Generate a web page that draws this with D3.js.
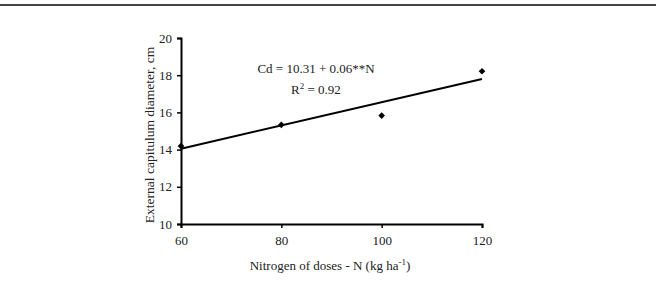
<!DOCTYPE html>
<html>
<head>
<meta charset="utf-8">
<script src="https://cdn.jsdelivr.net/npm/d3@7"></script>
<style>
  html, body { margin: 0; padding: 0; background: #fff; }
  svg { display: block; }
  text { font-family: "Liberation Serif", "Times New Roman", serif; fill: #222; }
</style>
</head>
<body>
<div id="chart"></div>
<script>
const doses = [60, 80, 100, 120];
const diameters = [14.19, 15.33, 15.83, 18.21];
const trendDoses = [60, 120];
const trendValues = [14.05, 17.8];
const xTicks = [60, 80, 100, 120];
const yTicks = [10, 12, 14, 16, 18, 20];

document.addEventListener("DOMContentLoaded", function () {
  const width = 656;
  const height = 281;

  const svg = d3.select("#chart")
    .append("svg")
    .attr("width", width)
    .attr("height", height);

  // rule at top of the page
  svg.append("line")
    .attr("x1", 0).attr("x2", width)
    .attr("y1", 5).attr("y2", 5)
    .attr("stroke", "#444")
    .attr("stroke-width", 2);

  const x = d3.scaleLinear().domain([60, 120]).range([181, 482]);
  const y = d3.scaleLinear().domain([10, 20]).range([224, 38]);

  const xAxis = svg.append("g")
    .attr("transform", "translate(0,224)")
    .call(d3.axisBottom(x).tickValues(xTicks).tickSize(4).tickPadding(8).tickFormat(d3.format("d")));

  const yAxis = svg.append("g")
    .attr("transform", "translate(181,0)")
    .call(d3.axisLeft(y).tickValues(yTicks).tickSize(4).tickPadding(5).tickFormat(d3.format("d")));

  [xAxis, yAxis].forEach(g => {
    g.attr("font-family", null);
    g.select(".domain").attr("stroke", "#000").attr("stroke-width", 2);
    g.selectAll(".tick line").attr("stroke", "#000").attr("stroke-width", 1.5);
    g.selectAll(".tick text")
      .style("font-size", "13px")
      .attr("fill", "#222");
  });

  // trend line
  svg.append("path")
    .datum(trendDoses.map((d, i) => [d, trendValues[i]]))
    .attr("d", d3.line().x(d => x(d[0])).y(d => y(d[1])))
    .attr("stroke", "#000")
    .attr("stroke-width", 2)
    .attr("fill", "none");

  // observed points (square turned 45 degrees)
  svg.selectAll(".pt")
    .data(doses.map((d, i) => [d, diameters[i]]))
    .enter()
    .append("path")
    .attr("class", "pt")
    .attr("d", d3.symbol().type(d3.symbolSquare).size(22))
    .attr("transform", d => `translate(${x(d[0])},${y(d[1])}) rotate(45)`)
    .attr("fill", "#000");

  // equation
  svg.append("text")
    .attr("x", 316).attr("y", 73)
    .attr("text-anchor", "middle")
    .style("font-size", "13px")
    .text("Cd = 10.31 + 0.06**N");

  const r2 = svg.append("text")
    .attr("x", 316).attr("y", 94)
    .attr("text-anchor", "middle")
    .style("font-size", "13px");
  r2.append("tspan").text("R");
  r2.append("tspan").attr("dy", -5).style("font-size", "9px").text("2");
  r2.append("tspan").attr("dy", 5).text(" = 0.92");

  // axis titles
  const xt = svg.append("text")
    .attr("x", 330).attr("y", 270)
    .attr("text-anchor", "middle")
    .style("font-size", "13px");
  xt.append("tspan").text("Nitrogen of doses - N (kg ha");
  xt.append("tspan").attr("dy", -5).style("font-size", "9px").text("-1");
  xt.append("tspan").attr("dy", 5).text(")");

  svg.append("text")
    .attr("transform", "translate(154,135) rotate(-90)")
    .attr("text-anchor", "middle")
    .style("font-size", "13.5px")
    .text("External capitulum diameter, cm");
});
</script>
</body>
</html>
